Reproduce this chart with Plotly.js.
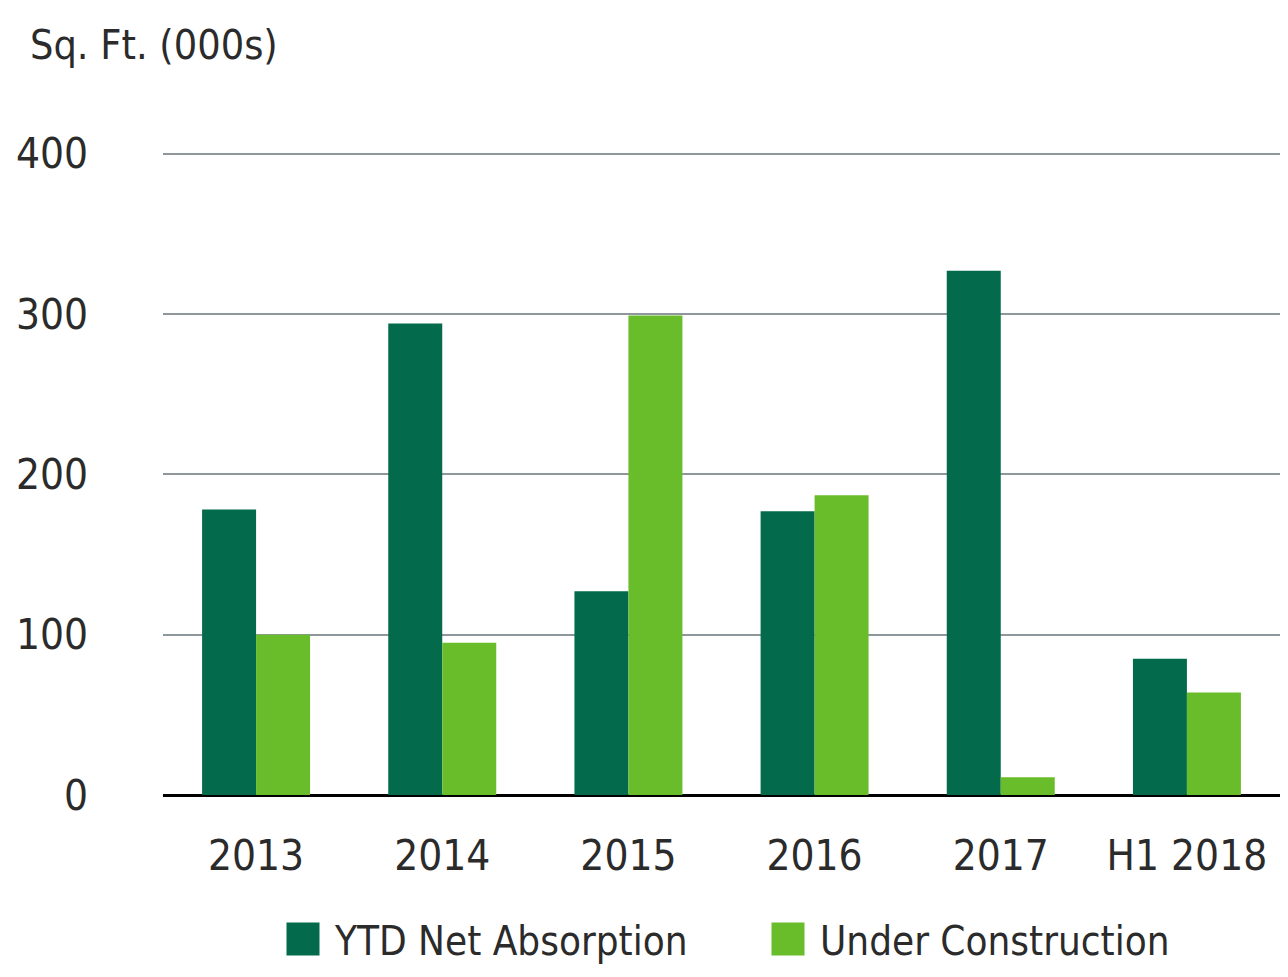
<!DOCTYPE html>
<html>
<head>
<meta charset="utf-8">
<script src="https://cdn.plot.ly/plotly-3.0.1.min.js"></script>
<style>html,body{margin:0;padding:0;background:#fff;}#chart{width:1288px;height:977px;}</style>
</head>
<body>
<div id="chart"></div>
<script>
const categories = ["2013", "2014", "2015", "2016", "2017", "H1 2018"];
const netAbsorption = [178, 294, 127, 177, 327, 85];
const underConstruction = [100, 95, 299, 187, 11, 64];
const seriesNames = ["YTD Net Absorption", "Under Construction"];
const yTicks = [0, 100, 200, 300, 400];

const FONT = '"DejaVu Sans Condensed", "Liberation Sans", sans-serif';
const TXT = '#2b2b2b';

const traces = [
  {type: 'bar', name: seriesNames[0], x: categories, y: netAbsorption,
   marker: {color: '#036b4c'}},
  {type: 'bar', name: seriesNames[1], x: categories, y: underConstruction,
   marker: {color: '#6abd2a'}}
];

const layout = {
  width: 1288, height: 977,
  paper_bgcolor: '#fff', plot_bgcolor: '#fff',
  margin: {l: 163, r: 8, t: 152, b: 182},
  font: {family: FONT, color: TXT, size: 42},
  title: {text: 'Sq. Ft. (000s)', x: 30/1288, xref: 'container', xanchor: 'left',
          y: 1 - 45/977, yref: 'container', yanchor: 'middle',
          font: {family: FONT, size: 41, color: TXT}},
  barmode: 'group', bargap: 0.42, bargroupgap: 0,
  xaxis: {type: 'category', showgrid: false, zeroline: false, showline: false,
          ticks: '', ticklabelstandoff: 32, tickfont: {size: 42, color: TXT}},
  yaxis: {range: [0, 401], tickvals: yTicks, ticktext: yTicks.map(String),
          showgrid: true, gridcolor: '#8e979b', gridwidth: 2,
          zeroline: true, zerolinecolor: '#000', zerolinewidth: 3,
          showline: false, ticks: '', ticklabelstandoff: 74,
          tickfont: {size: 42, color: TXT}},
  showlegend: true,
  legend: {orientation: 'h', x: 0.5 + 116/1288, xref: 'container', xanchor: 'center',
           y: 1 - 939/977, yref: 'container', yanchor: 'middle',
           font: {size: 40, color: TXT}, itemwidth: 50, entrywidth: 420}
};

Plotly.newPlot('chart', traces, layout, {staticPlot: true}).then(function (gd) {
  gd.querySelectorAll('.legend .legendpoints path').forEach(function (p) {
    p.setAttribute('transform', 'translate(28,0) scale(2.75)');
  });
});
</script>
</body>
</html>
